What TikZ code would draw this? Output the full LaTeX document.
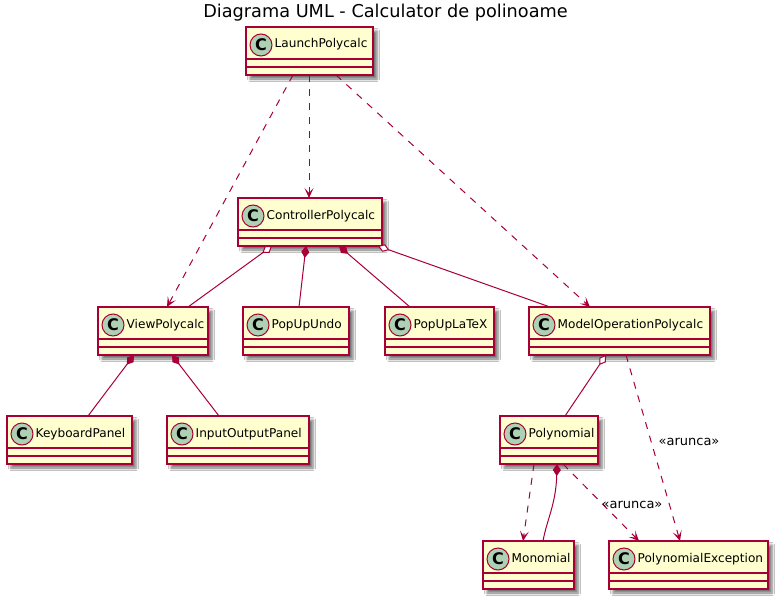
\documentclass[tikz,border=0pt]{standalone}
\usepackage{fontspec}
\setmainfont{DejaVu Sans}
\usetikzlibrary{arrows.meta,shadows.blur,calc}
\definecolor{umlred}{HTML}{A80036}
\definecolor{umlfill}{HTML}{FEFECE}
\definecolor{umlcirc}{HTML}{ADD1B2}
\tikzset{
 classbox/.style={draw=umlred, line width=1.3pt, fill=umlfill, rectangle, inner sep=0pt, outer sep=0pt, minimum height=48pt,
   blur shadow={shadow xshift=4pt, shadow yshift=-4pt, shadow blur radius=2.5pt, shadow opacity=55}},
 circc/.style={circle, draw=umlred, line width=1pt, fill=umlcirc, minimum size=22pt, inner sep=0pt, font=\fontsize{16}{16}\selectfont\bfseries},
 cname/.style={anchor=base west, inner sep=0pt, font=\fontsize{12.1}{14}\selectfont},
 sepline/.style={draw=umlred, line width=1.3pt},
 conn/.style={draw=umlred, line width=1pt},
 dep/.style={conn, dash pattern=on 7pt off 7pt, -{Stealth[length=10pt,width=9pt,inset=5pt]}},
 comp/.style={conn, {Diamond[length=12pt,width=8pt,fill=umlred]}-},
 aggr/.style={conn, {Diamond[length=12pt,width=8pt,fill=white]}-},
 lbl/.style={anchor=base, inner sep=0pt, font=\fontsize{13}{15}\selectfont},
}
\newcommand\umlclass[5]{%
 \node[classbox, minimum width=#4pt] (#1) at ({#2+#4/2},{#3+24}) {};
 \draw[sepline] ({#2},{#3+32}) -- ({#2+#4},{#3+32});
 \draw[sepline] ({#2},{#3+40}) -- ({#2+#4},{#3+40});
 \node[circc] (#1c) at ({#2+15},{#3+18}) {C};
 \node[cname] (#1t) at ({#2+28.5},{#3+21}) {#5};
}
\begin{document}
\begin{tikzpicture}[x=1pt,y=-1pt]
\fill[white] (0,0) rectangle (781,602);
\useasboundingbox (0,0) rectangle (781,602);
\node[anchor=base, inner sep=0pt, font=\fontsize{17.7}{20}\selectfont] (title) at (385.5,18) {Diagrama UML - Calculator de polinoame};

\umlclass{launch}{246}{27}{127}{LaunchPolycalc}
\umlclass{ctrl}{238}{198}{144}{ControllerPolycalc}
\umlclass{view}{98}{307}{110}{ViewPolycalc}
\umlclass{undo}{243}{307}{106}{PopUpUndo}
\umlclass{latex}{385}{307}{109}{PopUpLaTeX}
\umlclass{model}{529}{307}{181}{ModelOperationPolycalc}
\umlclass{kbd}{7}{416}{125}{KeyboardPanel}
\umlclass{io}{167}{416}{142}{InputOutputPanel}
\umlclass{poly}{500}{416}{98}{Polynomial}
\umlclass{mono}{483}{541}{91}{Monomial}
\umlclass{exc}{609}{541}{159}{PolynomialException}

% dependencies from LaunchPolycalc
\draw[dep] ([xshift=47pt]launch.south west) -- ([xshift=69pt]view.north west);
\draw[dep] ([xshift=63pt]launch.south west) -- ([xshift=71pt]ctrl.north west);
\draw[dep] ([xshift=90pt]launch.south west) -- ([xshift=61pt]model.north west);

% ControllerPolycalc relations
\draw[aggr] ([xshift=34pt]ctrl.south west) -- ([xshift=90pt]view.north west);
\draw[comp] ([xshift=68pt]ctrl.south west) -- ([xshift=56pt]undo.north west);
\draw[comp] ([xshift=101pt]ctrl.south west) -- ([xshift=25pt]latex.north west);
\draw[aggr] ([xshift=140pt]ctrl.south west) -- ([xshift=21pt]model.north west);

% ViewPolycalc relations
\draw[comp] ([xshift=36pt]view.south west) -- ([xshift=81pt]kbd.north west);
\draw[comp] ([xshift=74pt]view.south west) -- ([xshift=52pt]io.north west);

% ModelOperationPolycalc relations
\draw[aggr] ([xshift=77pt]model.south west) -- ([xshift=65pt]poly.north west);
\draw[dep] ([xshift=97pt]model.south west) -- ([xshift=71pt]exc.north west);
\node[lbl] (lab1) at (689,445) {«arunca»};

% Polynomial relations
\draw[dep] ([xshift=34pt]poly.south west) -- ([xshift=40pt]mono.north west);
\draw[comp] ([xshift=57pt]poly.south west) .. controls +(-1,40) and +(4,-22) .. ([xshift=60pt]mono.north west);
\draw[dep] ([xshift=63pt]poly.south west) -- ([xshift=30pt]exc.north west);
\node[lbl] (lab2) at (632,508) {«arunca»};
\end{tikzpicture}
\end{document}
